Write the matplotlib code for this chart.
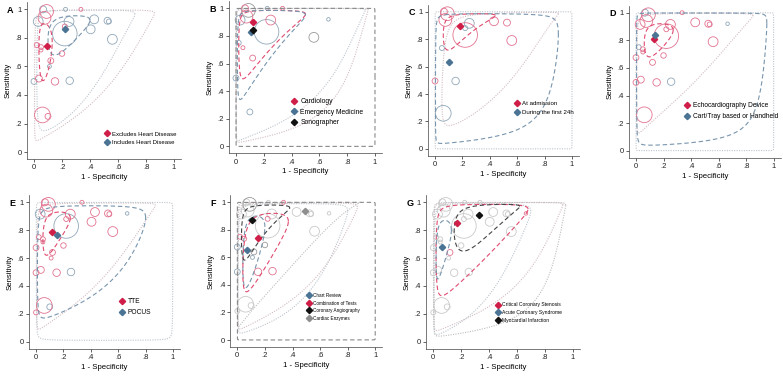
import numpy as np
import matplotlib.pyplot as plt
from matplotlib.lines import Line2D

plt.rcParams['font.family'] = ['Liberation Sans', 'DejaVu Sans']

# study level estimates (1 - specificity, sensitivity, study weight)
fpr = [0.09, 0.075, 0.03, 0.065, 0.225, 0.335, 0.22, 0.22, 0.25, 0.43,
       0.525, 0.535, 0.405, 0.56, 0.665, 0.02, 0.05, 0.05, 0.0, 0.2,
       0.12, 0.11, 0.035, 0.0, 0.15, 0.255, 0.06, 0.10, 0.0]
sens = [0.985, 0.94, 0.915, 1.0, 1.0, 1.0, 0.83, 0.88, 0.915, 0.93,
        0.92, 0.915, 0.86, 0.79, 0.92, 0.75, 0.735, 0.715, 0.675, 0.69,
        0.64, 0.60, 0.515, 0.495, 0.495, 0.50, 0.26, 0.25, 0.21]
weight = [490, 423, 250, 123, 40, 40, 1563, 63, 250, 203,
          123, 63, 203, 250, 32, 63, 63, 40, 90, 78,
          90, 40, 123, 90, 144, 144, 640, 90, 63]

# subgroup of each study per panel (r/b/k/g, "." = not in analysis)
grp_A = "rrbbbrbrbbbbbb.rrr.rrbrbrbrr."
grp_B = "krbrbrb.r....kbb.r..r..b...b."
grp_C = "rr.r..rbbrr..r..b......rb.b.."
grp_D = "rrrb.rrrrrrr.rbbrrrrr.rrrbr.."
grp_E = "rrbr.rbrrrrrrrbrrrrrrrrrrbrbr"
grp_F = "kggggrgrgggg.ggrr.bkkb.brrggg"
grp_G = "ggggggggggggggrgggggrgggggggg"

# summary points and regions: label, colour key, summary (fpr, sens),
# confidence region (fpr lo, fpr hi, sens lo, sens hi, rho), prediction region
panels = {
    "A": dict(grp=grp_A, groups=[
        ("Excludes Heart Disease", "r", (0.09, 0.74),
         (0.035, 0.13, 0.50, 0.90, 0.1), (0.004, 0.86, 0.08, 0.995, 0.55)),
        ("Includes Heart Disease", "b", (0.22, 0.86),
         (0.10, 0.40, 0.68, 0.955, 0.5), (0.02, 0.72, 0.15, 0.995, 0.45))]),
    "B": dict(grp=grp_B, groups=[
        ("Cardiology", "r", (0.12, 0.90),
         (0.02, 0.50, 0.49, 0.985, 0.5), (0.002, 0.95, 0.03, 0.999, 0.5)),
        ("Emergency Medicine", "b", (0.11, 0.83),
         (0.01, 0.50, 0.34, 0.985, 0.5), (0.001, 0.93, 0.04, 0.999, 0.5)),
        ("Sonographer", "k", (0.125, 0.84),
         (0.0003, 0.9997, 0.0003, 0.9997, 0.0), None)]),
    "C": dict(grp=grp_C, groups=[
        ("At admission", "r", (0.18, 0.895),
         (0.06, 0.44, 0.72, 0.985, 0.6), (0.05, 0.9, 0.17, 0.995, 0.7)),
        ("During the first 24h", "b", (0.10, 0.63),
         (0.003, 0.9, 0.04, 0.985, 0.3), (0.0004, 0.9996, 0.0004, 0.9996, 0.0))]),
    "D": dict(grp=grp_D, groups=[
        ("Echocardiography Device", "r", (0.13, 0.81),
         (0.06, 0.27, 0.68, 0.92, 0.4), (0.005, 0.85, 0.13, 0.995, 0.6)),
        ("Cart/Tray based or Handheld", "b", (0.135, 0.84),
         (0.004, 0.95, 0.04, 0.998, 0.2), (0.0004, 0.9996, 0.0004, 0.9996, 0.0))]),
    "E": dict(grp=grp_E, groups=[
        ("TTE", "r", (0.115, 0.79),
         (0.05, 0.25, 0.62, 0.93, 0.5), (0.005, 0.87, 0.09, 0.995, 0.6)),
        ("POCUS", "b", (0.155, 0.765),
         (0.01, 0.8, 0.17, 0.975, 0.4), (0.002, 0.998, 0.01, 0.999, 0.0))]),
    "F": dict(grp=grp_F, groups=[
        ("Chart Review", "b", (0.07, 0.655),
         (0.04, 0.2, 0.38, 0.9, 0.5), (0.005, 0.8, 0.05, 0.99, 0.5)),
        ("Combination of Tests", "r", (0.15, 0.74),
         (0.04, 0.37, 0.35, 0.92, 0.6), (0.003, 0.87, 0.08, 0.995, 0.5)),
        ("Coronary Angiography", "k", (0.11, 0.87),
         (0.03, 0.38, 0.58, 0.98, 0.6), (0.002, 0.88, 0.1, 0.999, 0.6)),
        ("Cardiac Enzymes", "g", (0.49, 0.94),
         (0.0003, 0.9997, 0.0003, 0.9997, 0.0), None)]),
    "G": dict(grp=grp_G, groups=[
        ("Critical Coronary Stenosis", "r", (0.17, 0.85),
         (0.02, 0.68, 0.33, 0.985, 0.5), (0.003, 0.93, 0.08, 0.998, 0.5)),
        ("Acute Coronary Syndrome", "b", (0.065, 0.68),
         (0.02, 0.13, 0.45, 0.87, 0.5), (0.005, 0.7, 0.05, 0.99, 0.5)),
        ("Myocardial Infarction", "k", (0.325, 0.91),
         (0.15, 0.62, 0.65, 0.985, 0.6), (0.003, 0.95, 0.04, 0.999, 0.4))]),
}

# layout in pixels: left, top, width, height, legend (x, y of first entry), legend font
layout = {
    "A": (27, 2.2, 154, 157, (0.525, 0.13), 4.3),
    "B": (229, 1.4, 153, 152, (0.42, 0.31), 4.9),
    "C": (428.2, 4.8, 150.7, 151, (0.60, 0.33), 4.4),
    "D": (629.1, 5.8, 151.5, 151.8, (0.373, 0.32), 4.8),
    "E": (29.2, 195.3, 150.7, 153.4, (0.625, 0.28), 4.8),
    "F": (230.4, 195.4, 151.8, 151.5, (0.527, 0.337), 3.3),
    "G": (426.3, 195.3, 153.3, 153.4, (0.47, 0.27), 3.6),
}

mark_col = {"r": "#cf1f48", "b": "#4b7394", "k": "#111111", "g": "#8e8e8e"}
circ_col = {"r": "#e27390", "b": "#90a7b9", "k": "#9a9a9a", "g": "#c9c9c9"}
dash_col = {"r": "#e04b70", "b": "#7895ad", "k": "#444444", "g": "#9a9a9a"}
pred_col = {"r": "#d2bcc2", "b": "#bcc5ce", "k": "#bdbdbd", "g": "#c8c8c8"}

W, H = 783, 378


def logit(p):
    p = np.asarray(p, dtype=float)
    return np.log(p / (1 - p))


def expit(z):
    return 1 / (1 + np.exp(-z))


def region(ax, box, **kw):
    fl, fh, sl, sh, rho = box
    lx = logit([fl, fh])
    ly = logit([sl, sh])
    cx, sx = lx.mean(), (lx[1] - lx[0]) / 2
    cy, sy = ly.mean(), (ly[1] - ly[0]) / 2
    t = np.linspace(0, 2 * np.pi, 400)
    x = cx + sx * np.cos(t)
    y = cy + sy * (rho * np.cos(t) + np.sqrt(1 - rho ** 2) * np.sin(t))
    ax.plot(expit(x), expit(y), **kw)


fig = plt.figure(figsize=(W / 100, H / 100), dpi=100)

fpr_a = np.array(fpr)
sens_a = np.array(sens)
w_a = np.array(weight)

for key, p in panels.items():
    left, top, wd, ht, leg_xy, leg_fs = layout[key]
    ax = fig.add_axes([left / W, 1 - (top + ht) / H, wd / W, ht / H])
    ax.set_xlim(-0.05, 1.05)
    ax.set_ylim(-0.05, 1.05)

    g = np.array(list(p["grp"]))
    # prediction regions first, then study circles, then confidence regions
    for lab, c, summ, conf, pred in p["groups"]:
        if pred is not None:
            region(ax, pred, color=pred_col[c], lw=0.8, ls=(0, (1, 1.2)), zorder=1)
    for c in ["g", "k", "b", "r"]:
        m = g == c
        if m.any():
            ax.scatter(fpr_a[m], sens_a[m], s=w_a[m] * 0.2, facecolors="none",
                       edgecolors=circ_col[c], linewidths=0.6, zorder=2)
    handles = []
    for lab, c, summ, conf, pred in p["groups"]:
        big = conf[1] - conf[0] > 0.99
        region(ax, conf, color="#8a8a8a" if big else dash_col[c], lw=0.8,
               ls=(0, (4, 2.5)), zorder=3)
        ax.plot(summ[0], summ[1], marker="D", ms=3.2, color=mark_col[c],
                mec=mark_col[c], ls="none", zorder=5)
        handles.append(Line2D([], [], marker="D", ms=3.2, color=mark_col[c],
                              ls="none", label=lab))

    n = len(handles)
    row = 0.065 if n <= 2 else (0.062 if key != "F" else 0.064)
    lx = (leg_xy[0] + 0.05) / 1.1
    ly = (leg_xy[1] + 0.05 - row * (n - 1) / 2) / 1.1
    ax.legend(handles=handles, loc="center left", bbox_to_anchor=(lx - 0.015, ly),
              frameon=False, fontsize=leg_fs, handlelength=0.7, handletextpad=0.5,
              borderpad=0, borderaxespad=0, labelspacing=0.55)

    ticks = [0, 0.2, 0.4, 0.6, 0.8, 1]
    labs = ["0", ".2", ".4", ".6", ".8", "1"]
    ax.set_xticks(ticks)
    ax.set_xticklabels(labs)
    ax.set_yticks(ticks)
    ax.set_yticklabels(labs)
    ax.tick_params(labelsize=5.5, length=2.2, width=0.5, pad=1.5, colors="#222222")
    ax.set_xlabel("1 - Specificity", fontsize=5.6, labelpad=2)
    ax.set_ylabel("Sensitivity", fontsize=5.6, labelpad=3)
    for s in ["top", "right"]:
        ax.spines[s].set_visible(False)
    for s in ["left", "bottom"]:
        ax.spines[s].set_linewidth(0.5)
        ax.spines[s].set_color("#444444")

    fig.text((left - 20) / W, 1 - (top + 8) / H, key, fontsize=6.5,
             fontweight="bold", va="center", ha="left")

fig.savefig("out.png", dpi=100)
